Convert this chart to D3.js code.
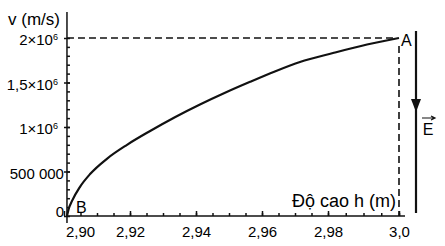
<!DOCTYPE html>
<html lang="vi">
  <head>
    <meta charset="UTF-8" />
    <title>v theo độ cao h</title>
    <script src="https://cdn.jsdelivr.net/npm/d3@7"></script>
    <style>
      body { margin: 0; background: #fff; }
      text {
        font-family: "Liberation Sans", Arial, sans-serif;
        fill: #000;
      }
      .axis path, .axis line { stroke: #111; stroke-width: 1.5px; }
      .axis text { font-size: 15px; }
      .dash { stroke: #111; stroke-width: 1.6px; stroke-dasharray: 7,4; fill: none; }
    </style>
  </head>
  <body>
    <script>
      // curve points: height h (m), speed v (m/s)
      var hValues = [2.9009, 2.9014, 2.9024, 2.9048, 2.9079, 2.9130, 2.9191, 2.9261, 2.9336,
                     2.9412, 2.9488, 2.9564, 2.9639, 2.9715, 2.9814, 2.9910, 3.0];
      var vValues = [0, 77000, 167000, 325000, 471000, 643000, 800000, 955000, 1110000,
                     1253000, 1385000, 1508000, 1624000, 1730000, 1831000, 1927000, 2000000];

      // axis ticks
      var xTickValues = [2.90, 2.92, 2.94, 2.96, 2.98, 3.0];
      var xTickLabels = ["2,90", "2,92", "2,94", "2,96", "2,98", "3,0"];
      var xMinorTicks = d3.range(2.905, 3.0, 0.005);
      var yTickValues = [0, 500000, 1000000, 1500000, 2000000];
      var yTickLabels = [["0", ""], ["500 000", ""], ["1×10", "6"], ["1,5×10", "6"], ["2×10", "6"]];
      var yMinorTicks = d3.range(100000, 2000000, 100000);

      // points A and B
      var pointA = [3.0, 2000000];
      var pointB = [2.9009, 0];

      var w = 445, h = 246;

      var svg = d3.select("body").append("svg")
        .attr("width", w)
        .attr("height", h);

      // x scale (the printed axis is a little uneven near 3,0)
      var xScale = d3.scaleLinear()
        .domain([2.90, 2.98, 3.0])
        .range([64, 328, 399]);

      var yScale = d3.scaleLinear()
        .domain([0, 2000000])
        .range([216, 38]);

      var x0 = xScale(pointB[0]);

      // minor ticks, x (pointing up)
      var xMinor = d3.axisTop(xScale)
        .tickValues(xMinorTicks)
        .tickSize(3)
        .tickFormat("");

      svg.append("g")
        .attr("class", "axis")
        .attr("transform", "translate(0," + yScale(0) + ")")
        .call(xMinor)
        .select(".domain").remove();

      // main x axis
      var xAxis = d3.axisBottom(xScale)
        .tickValues(xTickValues)
        .tickSize(0)
        .tickPadding(10)
        .tickFormat(function(d, i) { return xTickLabels[i]; });

      var gx = svg.append("g")
        .attr("class", "axis")
        .attr("transform", "translate(0," + yScale(0) + ")")
        .call(xAxis);

      gx.select(".domain").attr("d", "M" + (x0 - 1) + ",0H405");
      gx.selectAll(".tick text")
        .attr("dx", function(d, i) { return i === 0 ? 16 : 0; });
      gx.selectAll(".tick line")
        .attr("y2", -5);

      // minor ticks, y (pointing right)
      var yMinor = d3.axisRight(yScale)
        .tickValues(yMinorTicks)
        .tickSize(3)
        .tickFormat("");

      svg.append("g")
        .attr("class", "axis")
        .attr("transform", "translate(" + x0 + ",0)")
        .call(yMinor)
        .select(".domain").remove();

      // main y axis
      var yAxis = d3.axisLeft(yScale)
        .tickValues(yTickValues)
        .tickSize(3)
        .tickPadding(3)
        .tickFormat("");

      var gy = svg.append("g")
        .attr("class", "axis")
        .attr("transform", "translate(" + x0 + ",0)")
        .call(yAxis);

      gy.select(".domain").attr("d", "M0,12V223");
      gy.selectAll(".tick line").attr("x2", 3).attr("x1", -3);

      gy.selectAll(".tick text")
        .attr("x", function(d, i) { return yTickLabels[i][1] ? -9 : -3; })
        .attr("dy", function(d, i) { return i === 0 ? "0" : "0.45em"; })
        .each(function(d, i) {
          var t = d3.select(this);
          t.append("tspan").text(yTickLabels[i][0]);
          if (yTickLabels[i][1]) {
            t.append("tspan")
              .attr("dy", "-0.55em")
              .attr("font-size", "9px")
              .text(yTickLabels[i][1]);
          }
        });

      // dashed lines to A
      svg.append("line")
        .attr("class", "dash")
        .attr("x1", x0).attr("x2", xScale(pointA[0]) - 4)
        .attr("y1", yScale(pointA[1])).attr("y2", yScale(pointA[1]));

      svg.append("line")
        .attr("class", "dash")
        .attr("x1", xScale(pointA[0])).attr("x2", xScale(pointA[0]))
        .attr("y1", yScale(pointA[1]) + 8).attr("y2", yScale(0));

      // the curve
      var line = d3.line()
        .x(function(d) { return xScale(d[0]); })
        .y(function(d) { return yScale(d[1]); })
        .curve(d3.curveMonotoneX);

      svg.append("path")
        .datum(hValues.map(function(v, i) { return [v, vValues[i]]; }))
        .attr("d", line)
        .attr("fill", "none")
        .attr("stroke", "#111")
        .attr("stroke-width", 2.2);

      // point labels
      svg.append("text")
        .attr("x", xScale(pointA[0]) + 2)
        .attr("y", yScale(pointA[1]) + 8)
        .attr("font-size", "16px")
        .text("A");

      svg.append("text")
        .attr("x", xScale(pointB[0]) + 9)
        .attr("y", yScale(0) - 3)
        .attr("font-size", "16px")
        .text("B");

      // axis titles
      svg.append("text")
        .attr("x", 8)
        .attr("y", 25)
        .attr("font-size", "17px")
        .text("v (m/s)");

      svg.append("text")
        .attr("x", 396)
        .attr("y", 207)
        .attr("text-anchor", "end")
        .attr("font-size", "18px")
        .text("Độ cao h (m)");

      // field vector E
      svg.append("line")
        .attr("x1", 416).attr("x2", 416)
        .attr("y1", 31).attr("y2", 213)
        .attr("stroke", "#111")
        .attr("stroke-width", 2.2);

      svg.append("path")
        .attr("d", "M411,99L421,99L416,112Z")
        .attr("fill", "#111");

      svg.append("text")
        .attr("x", 428)
        .attr("y", 135)
        .attr("text-anchor", "middle")
        .attr("font-size", "16px")
        .text("E");

      svg.append("path")
        .attr("d", "M422,118H434M431,116L435,118L431,120")
        .attr("fill", "none")
        .attr("stroke", "#111")
        .attr("stroke-width", 1.2);
    </script>
  </body>
</html>
